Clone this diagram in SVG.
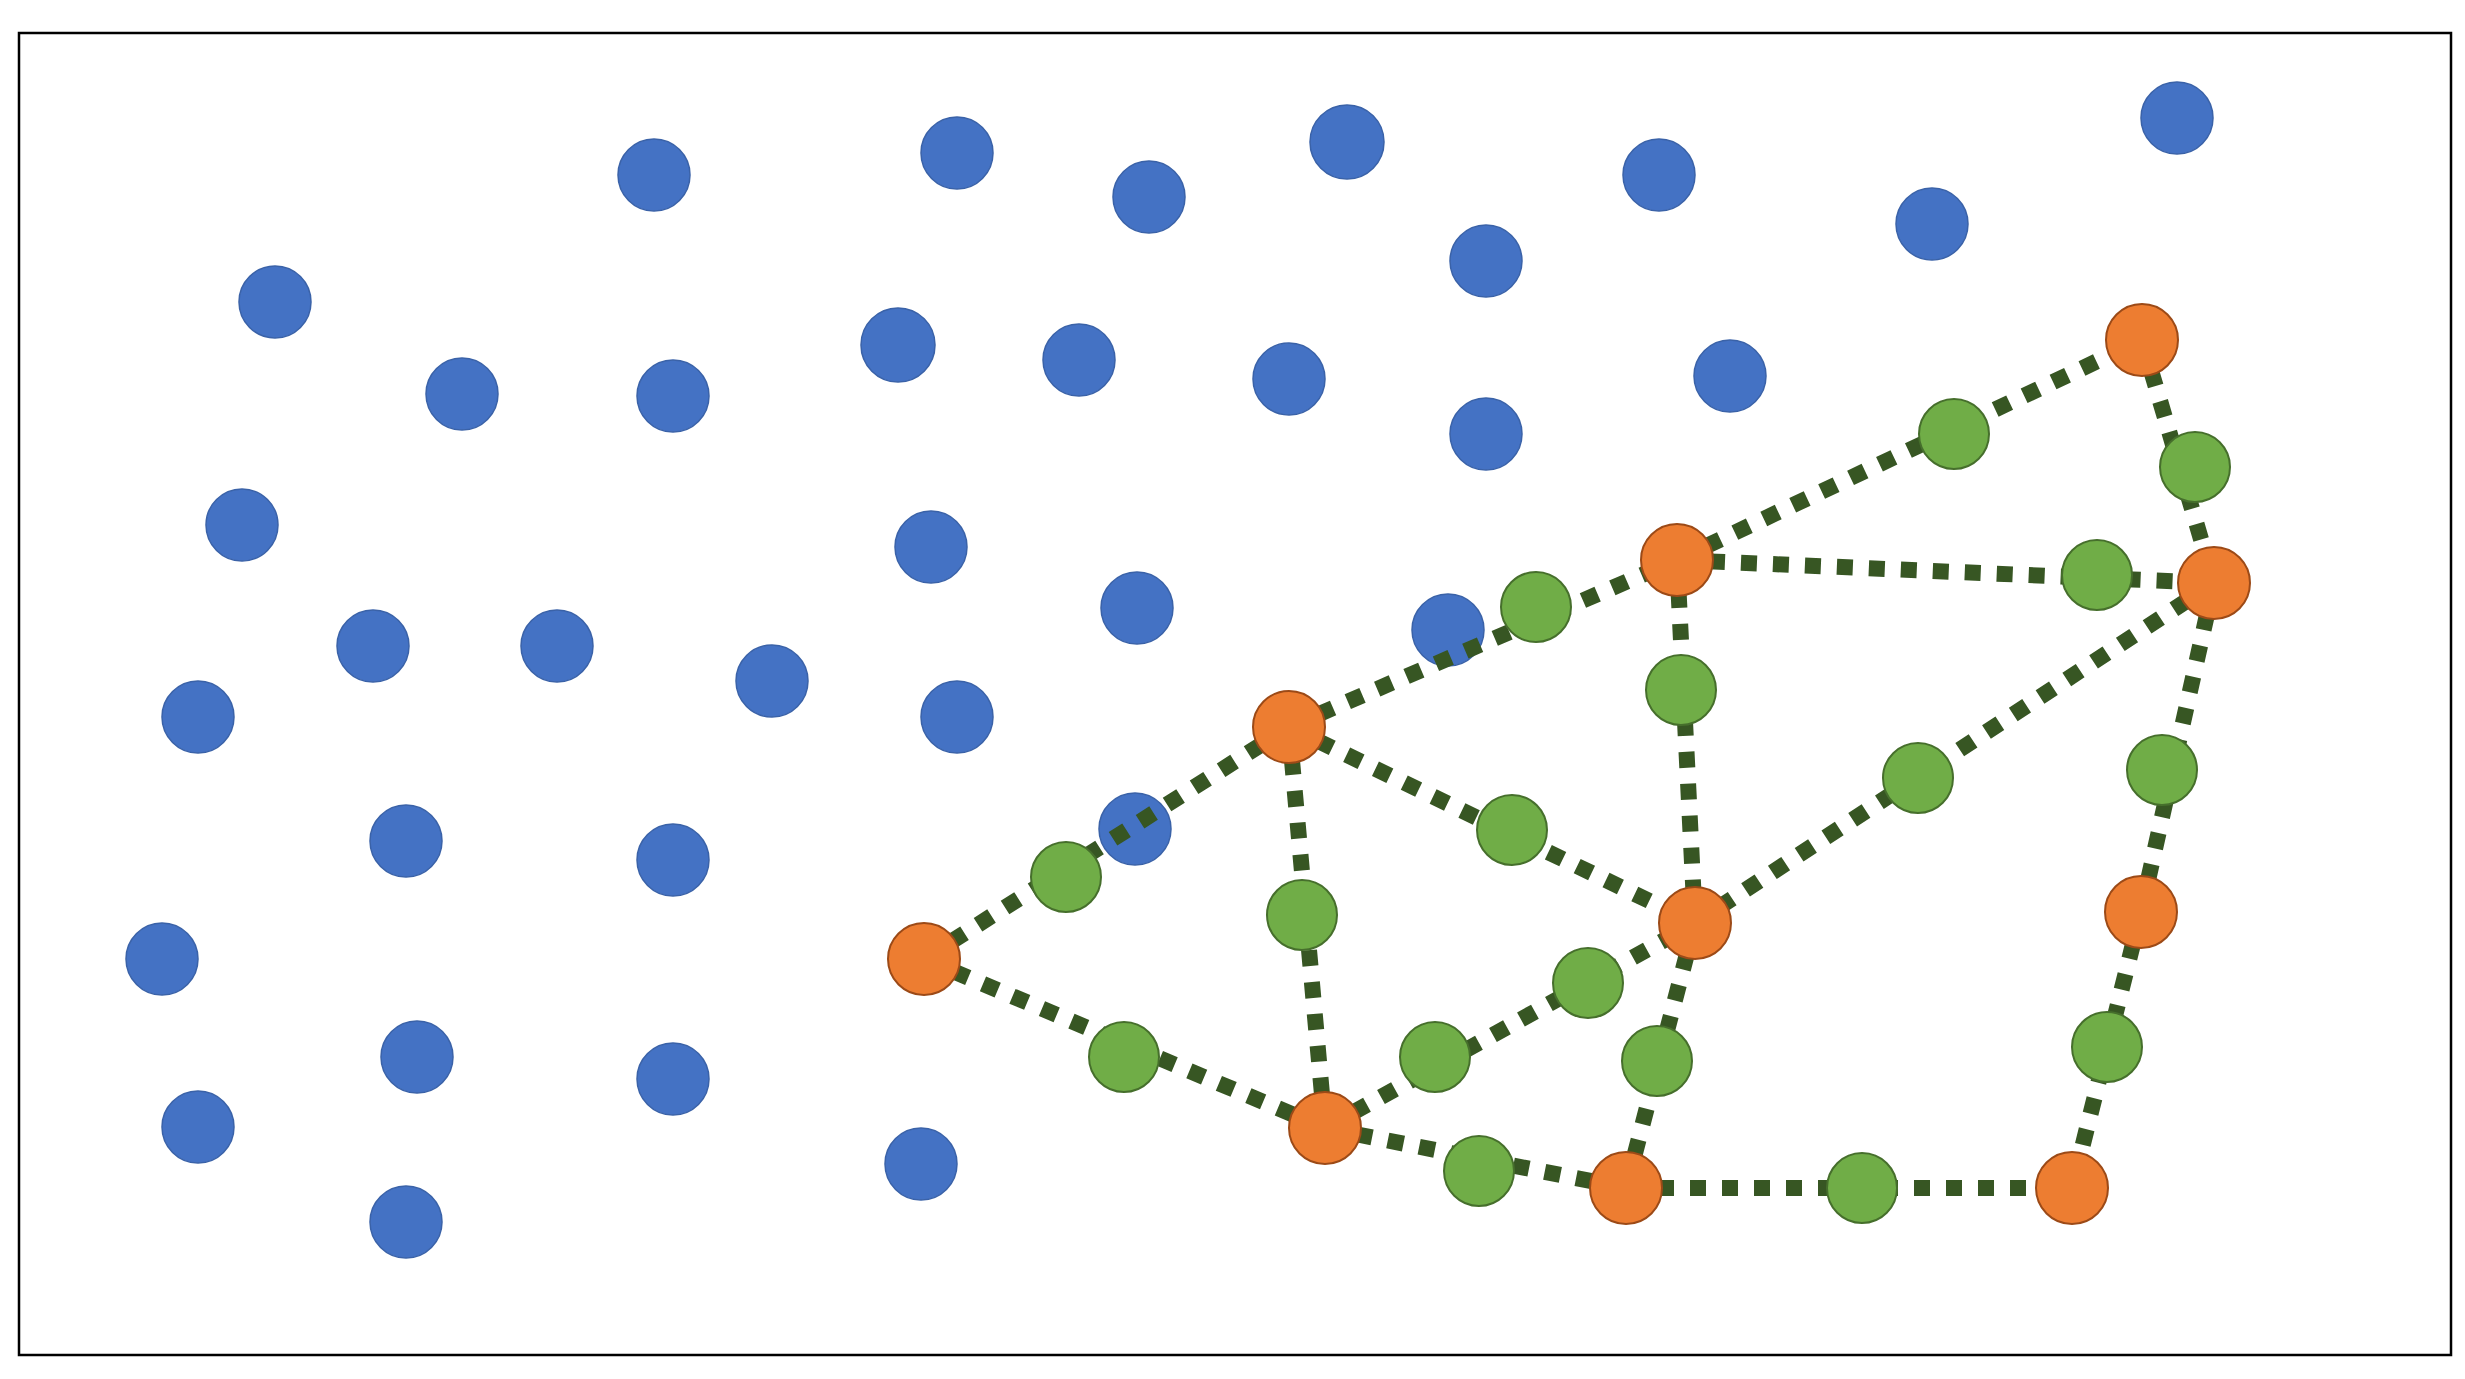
<svg xmlns="http://www.w3.org/2000/svg" width="2465" height="1379" viewBox="0 0 2465 1379">
<style>
.b{fill:#4472C4;stroke:#3A62A8;stroke-width:1.5}
.o{fill:#ED7D31;stroke:#9C4A17;stroke-width:2}
.g{fill:#70AD47;stroke:#466F2C;stroke-width:2}
.e{fill:none;stroke:#375623;stroke-width:16;stroke-dasharray:16 16;stroke-linecap:butt}
</style>
<rect x="0" y="0" width="2465" height="1379" fill="#FFFFFF"/>
<rect x="19" y="33" width="2432" height="1322" fill="none" stroke="#000000" stroke-width="2.5"/>
<g id="blue-nodes">
<g id="b1"><circle class="b" cx="654" cy="175" r="36"/></g>
<g id="b2"><circle class="b" cx="957" cy="153" r="36"/></g>
<g id="b3"><circle class="b" cx="1149" cy="197" r="36"/></g>
<g id="b4"><circle class="b" cx="1347" cy="142" r="37"/></g>
<g id="b5"><circle class="b" cx="1659" cy="175" r="36"/></g>
<g id="b6"><circle class="b" cx="2177" cy="118" r="36"/></g>
<g id="b7"><circle class="b" cx="1486" cy="261" r="36"/></g>
<g id="b8"><circle class="b" cx="1932" cy="224" r="36"/></g>
<g id="b9"><circle class="b" cx="275" cy="302" r="36"/></g>
<g id="b10"><circle class="b" cx="462" cy="394" r="36"/></g>
<g id="b11"><circle class="b" cx="673" cy="396" r="36"/></g>
<g id="b12"><circle class="b" cx="898" cy="345" r="37"/></g>
<g id="b13"><circle class="b" cx="1079" cy="360" r="36"/></g>
<g id="b14"><circle class="b" cx="1289" cy="379" r="36"/></g>
<g id="b15"><circle class="b" cx="1730" cy="376" r="36"/></g>
<g id="b16"><circle class="b" cx="1486" cy="434" r="36"/></g>
<g id="b17"><circle class="b" cx="242" cy="525" r="36"/></g>
<g id="b18"><circle class="b" cx="931" cy="547" r="36"/></g>
<g id="b19"><circle class="b" cx="373" cy="646" r="36"/></g>
<g id="b20"><circle class="b" cx="557" cy="646" r="36"/></g>
<g id="b21"><circle class="b" cx="772" cy="681" r="36"/></g>
<g id="b22"><circle class="b" cx="1137" cy="608" r="36"/></g>
<g id="b23"><circle class="b" cx="1448" cy="630" r="36"/></g>
<g id="b24"><circle class="b" cx="198" cy="717" r="36"/></g>
<g id="b25"><circle class="b" cx="957" cy="717" r="36"/></g>
<g id="b26"><circle class="b" cx="406" cy="841" r="36"/></g>
<g id="b27"><circle class="b" cx="673" cy="860" r="36"/></g>
<g id="b28"><circle class="b" cx="1135" cy="829" r="36"/></g>
<g id="b29"><circle class="b" cx="162" cy="959" r="36"/></g>
<g id="b30"><circle class="b" cx="417" cy="1057" r="36"/></g>
<g id="b31"><circle class="b" cx="673" cy="1079" r="36"/></g>
<g id="b32"><circle class="b" cx="198" cy="1127" r="36"/></g>
<g id="b33"><circle class="b" cx="406" cy="1222" r="36"/></g>
<g id="b34"><circle class="b" cx="921" cy="1164" r="36"/></g>
</g>
<g id="connectors">
<line class="e" x1="924" y1="959" x2="1289" y2="727"/>
<line class="e" x1="1289" y1="727" x2="1677" y2="560"/>
<line class="e" x1="1677" y1="560" x2="2142" y2="340"/>
<line class="e" x1="2142" y1="340" x2="2214" y2="583"/>
<line class="e" x1="1677" y1="560" x2="2214" y2="583"/>
<line class="e" x1="1677" y1="560" x2="1695" y2="923"/>
<line class="e" x1="2214" y1="583" x2="1695" y2="923"/>
<line class="e" x1="2214" y1="583" x2="2141" y2="912"/>
<line class="e" x1="1289" y1="727" x2="1695" y2="923"/>
<line class="e" x1="1289" y1="727" x2="1325" y2="1128"/>
<line class="e" x1="924" y1="959" x2="1325" y2="1128"/>
<line class="e" x1="1325" y1="1128" x2="1695" y2="923"/>
<line class="e" x1="1695" y1="923" x2="1626" y2="1188"/>
<line class="e" x1="1325" y1="1128" x2="1626" y2="1188"/>
<line class="e" x1="1626" y1="1188" x2="2072" y2="1188"/>
<line class="e" x1="2141" y1="912" x2="2072" y2="1188"/>
</g>
<g id="green-nodes">
<g id="g1"><circle class="g" cx="1954" cy="434" r="35"/></g>
<g id="g2"><circle class="g" cx="2195" cy="467" r="35"/></g>
<g id="g3"><circle class="g" cx="2097" cy="575" r="35"/></g>
<g id="g4"><circle class="g" cx="1536" cy="607" r="35"/></g>
<g id="g5"><circle class="g" cx="1681" cy="690" r="35"/></g>
<g id="g6"><circle class="g" cx="2162" cy="770" r="35"/></g>
<g id="g7"><circle class="g" cx="1918" cy="778" r="35"/></g>
<g id="g8"><circle class="g" cx="1512" cy="830" r="35"/></g>
<g id="g9"><circle class="g" cx="1066" cy="877" r="35"/></g>
<g id="g10"><circle class="g" cx="1302" cy="915" r="35"/></g>
<g id="g11"><circle class="g" cx="1588" cy="983" r="35"/></g>
<g id="g12"><circle class="g" cx="1435" cy="1057" r="35"/></g>
<g id="g13"><circle class="g" cx="1657" cy="1061" r="35"/></g>
<g id="g14"><circle class="g" cx="1124" cy="1057" r="35"/></g>
<g id="g15"><circle class="g" cx="2107" cy="1047" r="35"/></g>
<g id="g16"><circle class="g" cx="1479" cy="1171" r="35"/></g>
<g id="g17"><circle class="g" cx="1862" cy="1188" r="35"/></g>
</g>
<g id="orange-nodes">
<g id="o1"><circle class="o" cx="2142" cy="340" r="36"/></g>
<g id="o2"><circle class="o" cx="1677" cy="560" r="36"/></g>
<g id="o3"><circle class="o" cx="2214" cy="583" r="36"/></g>
<g id="o4"><circle class="o" cx="1289" cy="727" r="36"/></g>
<g id="o5"><circle class="o" cx="1695" cy="923" r="36"/></g>
<g id="o6"><circle class="o" cx="924" cy="959" r="36"/></g>
<g id="o7"><circle class="o" cx="2141" cy="912" r="36"/></g>
<g id="o8"><circle class="o" cx="1325" cy="1128" r="36"/></g>
<g id="o9"><circle class="o" cx="1626" cy="1188" r="36"/></g>
<g id="o10"><circle class="o" cx="2072" cy="1188" r="36"/></g>
</g>
</svg>
